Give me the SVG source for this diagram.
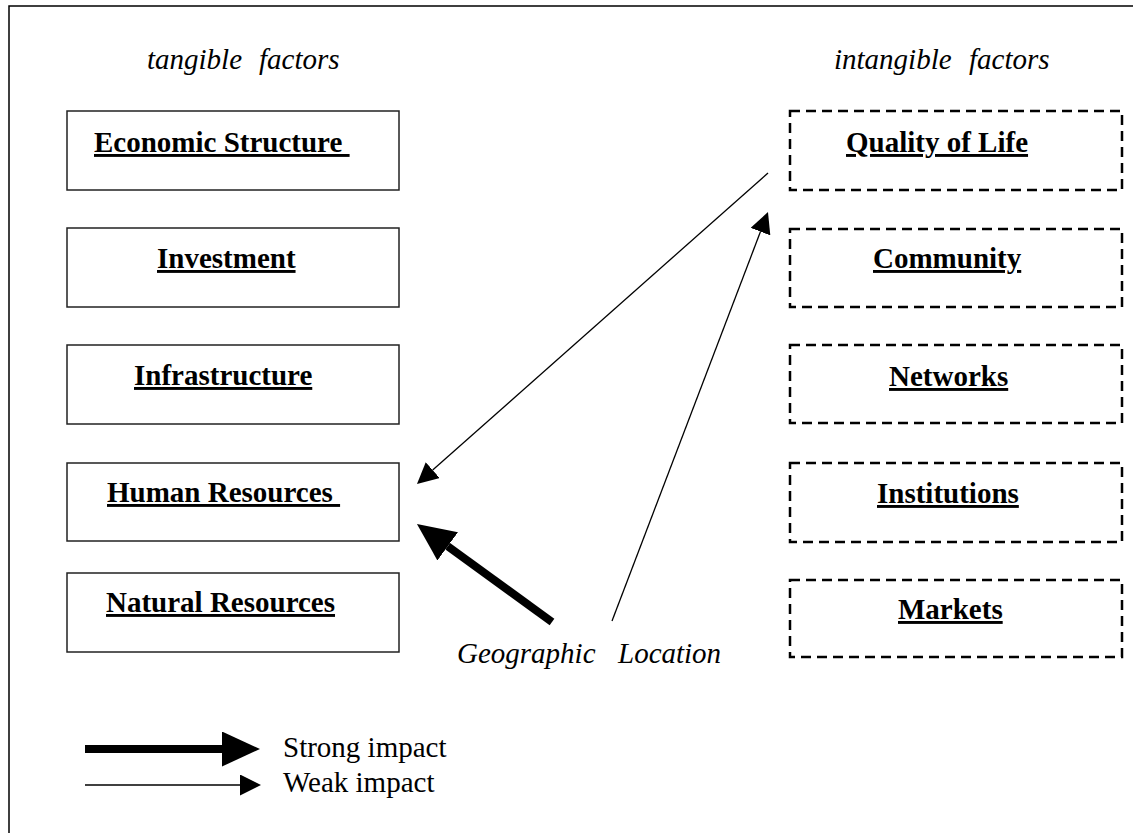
<svg xmlns="http://www.w3.org/2000/svg" width="1133" height="833" viewBox="0 0 1133 833">
<style>
.tan{fill:#fff;stroke:#222;stroke-width:1.5}
.intan{fill:#fff;stroke:#000;stroke-width:2.5;stroke-dasharray:10 6}
.lbl{font-family:"Liberation Serif","Times New Roman",serif;font-size:29px;font-weight:bold;text-decoration:underline;fill:#000}
.it{font-family:"Liberation Serif","Times New Roman",serif;font-size:29px;font-style:italic;fill:#000}
.reg{font-family:"Liberation Serif","Times New Roman",serif;font-size:29px;fill:#000}
.weak{stroke:#000;stroke-width:1.3;fill:none}
.strong{stroke:#000;stroke-width:8;fill:none}
</style>
<defs>
<marker id="mw" markerUnits="userSpaceOnUse" markerWidth="21" markerHeight="21" viewBox="0 0 21 21" refX="0" refY="10.5" orient="auto"><path d="M0,0 L21,10.5 L0,21 z" fill="#000"/></marker>
<marker id="ms" markerUnits="userSpaceOnUse" markerWidth="38" markerHeight="35" viewBox="0 0 38 35" refX="0" refY="17.5" orient="auto"><path d="M0,0 L38,17.5 L0,35 z" fill="#000"/></marker>
</defs>
<rect width="1133" height="833" fill="#fff"/>
<g id="frame"><path d="M9,833 L9,6 L1133,6" fill="none" stroke="#000" stroke-width="1.5"/></g>
<g id="headers">
<text class="it" y="69"><tspan x="147">tangible</tspan><tspan x="259">factors</tspan></text>
<text class="it" y="69"><tspan x="834">intangible</tspan><tspan x="969">factors</tspan></text>
</g>
<g id="economic-structure"><rect class="tan" x="67" y="111" width="332" height="79"/><text class="lbl" x="94" y="152" xml:space="preserve">Economic Structure </text></g>
<g id="investment"><rect class="tan" x="67" y="228" width="332" height="79"/><text class="lbl" x="157" y="268">Investment</text></g>
<g id="infrastructure"><rect class="tan" x="67" y="345" width="332" height="79"/><text class="lbl" x="134" y="385">Infrastructure</text></g>
<g id="human-resources"><rect class="tan" x="67" y="463" width="332" height="78"/><text class="lbl" x="107" y="502" xml:space="preserve">Human Resources </text></g>
<g id="natural-resources"><rect class="tan" x="67" y="573" width="332" height="79"/><text class="lbl" x="106" y="612">Natural Resources</text></g>
<g id="quality-of-life"><rect class="intan" x="790" y="111" width="332" height="79"/><text class="lbl" x="846" y="152">Quality of Life</text></g>
<g id="community"><rect class="intan" x="790" y="229" width="332" height="78"/><text class="lbl" x="873" y="268">Community</text></g>
<g id="networks"><rect class="intan" x="790" y="345" width="332" height="78"/><text class="lbl" x="889" y="386">Networks</text></g>
<g id="institutions"><rect class="intan" x="790" y="463" width="332" height="79"/><text class="lbl" x="877" y="503">Institutions</text></g>
<g id="markets"><rect class="intan" x="790" y="580" width="332" height="77"/><text class="lbl" x="898" y="619">Markets</text></g>
<g id="geographic-location"><text class="it" y="663"><tspan x="457">Geographic</tspan><tspan x="618">Location</tspan></text></g>
<g id="connectors">
<line class="weak" x1="768" y1="173" x2="432.7" y2="470.1" marker-end="url(#mw)"/>
<line class="weak" x1="612" y1="621" x2="760.5" y2="231.6" marker-end="url(#mw)"/>
<line class="strong" x1="552" y1="622" x2="447.7" y2="546.3" marker-end="url(#ms)"/>
</g>
<g id="legend">
<line class="strong" x1="85" y1="749" x2="222" y2="749" stroke-width="9" marker-end="url(#ms)"/>
<line class="weak" x1="85" y1="785" x2="240" y2="785" marker-end="url(#mw)"/>
<text class="reg" x="283" y="757">Strong impact</text>
<text class="reg" x="283" y="792">Weak impact</text>
</g>
</svg>
